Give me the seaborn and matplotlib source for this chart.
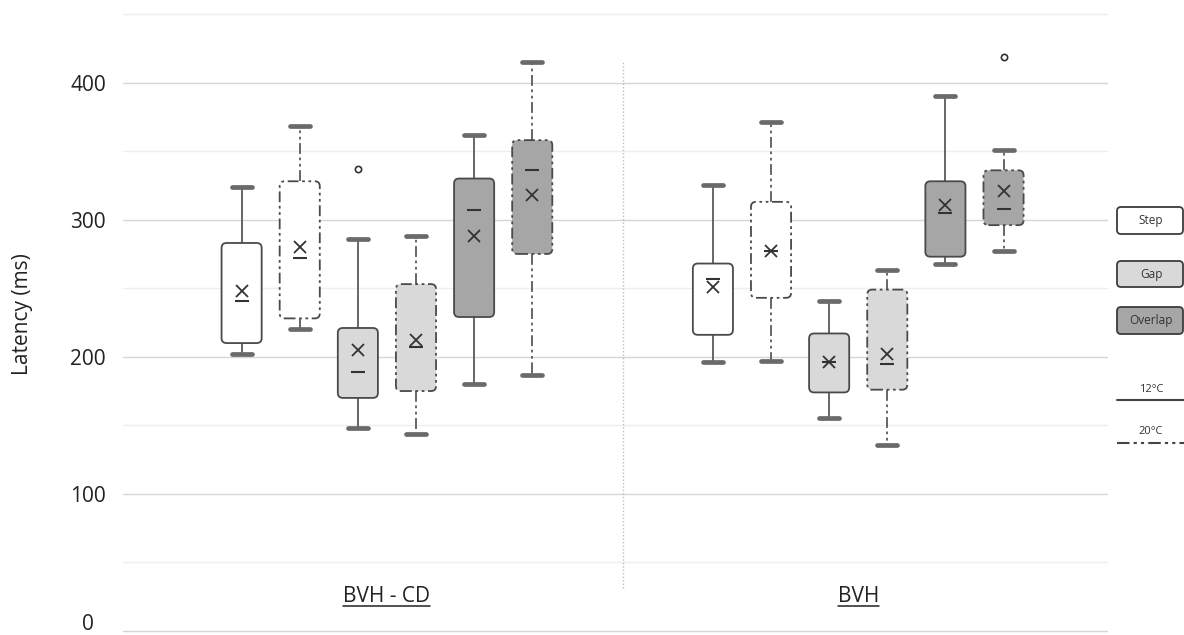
import matplotlib
matplotlib.use("Agg")
import matplotlib.pyplot as plt
from matplotlib.lines import Line2D
from matplotlib.patches import FancyBboxPatch, BoxStyle
from matplotlib.ticker import MultipleLocator
from matplotlib.transforms import ScaledTranslation
import pandas as pd
import seaborn as sns

# ---- data ----
groups = ["BVH - CD", "BVH"]
conditions = ["Step 12°C", "Step 20°C", "Gap 12°C", "Gap 20°C", "Overlap 12°C", "Overlap 20°C"]

# five-number summaries, group-major (6 boxes per group, in `conditions` order)
whisker_low = [202, 220, 148, 144, 180, 187, 196, 197, 155, 136, 268, 277]
q1 = [210, 228, 170, 175, 229, 275, 216, 243, 174, 176, 273, 296]
median = [241, 272, 189, 207, 307, 336, 257, 277, 196, 195, 305, 308]
q3 = [283, 328, 221, 253, 330, 358, 268, 313, 217, 249, 328, 336]
whisker_high = [324, 368, 286, 288, 362, 415, 325, 371, 241, 263, 390, 351]
mean = [248, 280, 205, 212, 288, 318, 251, 277, 196, 202, 311, 321]

outlier_group = ["BVH - CD", "BVH"]
outlier_condition = ["Gap 12°C", "Overlap 20°C"]
outlier_value = [337, 419]

yticks = [0, 100, 200, 300, 400]
legend_paradigms = ["Step", "Gap", "Overlap"]
legend_temps = ["12°C", "20°C"]

# ---- styling ----
W, H = 1184, 635
fills = {"Step": "#ffffff", "Gap": "#d9d9d9", "Overlap": "#a6a6a6"}
palette = {c: fills[c.split()[0]] for c in conditions}
ink = {c: "#333333" for c in conditions}
edge = "#4a4a4a"
dashdotdot = (0, (6, 2, 1.5, 2, 1.5, 2))
temp_styles = {"12°C": "-", "20°C": dashdotdot}

sns.set_style("white")
plt.rcParams["font.family"] = ["Open Sans", "DejaVu Sans"]

rows = []
for i in range(len(mean)):
    g, c = groups[i // 6], conditions[i % 6]
    for v in (whisker_low[i], q1[i], median[i], q3[i], whisker_high[i]):
        rows.append((g, c, c.split()[1], v))
boxes = pd.DataFrame(rows, columns=["group", "condition", "temp", "latency"])

summary = pd.DataFrame({
    "group": [groups[i // 6] for i in range(len(mean))],
    "condition": [conditions[i % 6] for i in range(len(mean))],
    "median": median,
    "mean": mean,
})
outliers = pd.DataFrame({"group": outlier_group, "condition": outlier_condition,
                         "latency": outlier_value})

# axes: y=0 at pixel row 631, y=450 at row 14, with a little slack so edge grid lines are not clipped
ppu = (631 - 14) / 450
ylo, yhi = -2, 452
top_px = 14 - (yhi - 450) * ppu
bot_px = 631 - ylo * ppu
fig = plt.figure(figsize=(W / 100, H / 100), dpi=100)
ax = fig.add_axes([123 / W, 1 - bot_px / H, (1108 - 123) / W, (bot_px - top_px) / H])

box_width = 0.74
dodge = box_width * 5 / 6

new_boxes = {}
for temp, ls in temp_styles.items():
    n0 = len(ax.patches)
    sns.boxplot(
        data=boxes[boxes["temp"] == temp], x="group", y="latency",
        hue="condition", order=groups, hue_order=conditions, palette=palette,
        width=box_width, gap=0.31, whis=(0, 100), showfliers=False,
        linecolor=edge, linewidth=1.3,
        whiskerprops={"linestyle": ls, "color": "#5a5a5a"},
        capprops={"linewidth": 3.4, "color": "#6a6a6a", "solid_capstyle": "round"},
        medianprops={"visible": False},
        legend=False, ax=ax,
    )
    new_boxes[temp] = list(ax.patches[n0:])

point_common = dict(x="group", hue="condition", order=groups, hue_order=conditions,
                    palette=ink, dodge=dodge, linestyles="none", errorbar=None,
                    legend=False, zorder=6, ax=ax)
sns.pointplot(data=summary, y="mean", markers="x", markersize=9,
              markeredgewidth=1.3, **point_common)
sns.pointplot(data=summary, y="median", markers="_", markersize=9.5,
              markeredgewidth=1.5, **point_common)
sns.pointplot(data=outliers, y="latency", markers="o", markersize=4.5,
              markeredgewidth=1.2, markerfacecolor="white", **point_common)

ax.set_xlim(-0.56, 1.53)
ax.set_ylim(ylo, yhi)

# rounded box corners
sx = ax.transData.transform((1, 0))[0] - ax.transData.transform((0, 0))[0]
sy = ax.transData.transform((0, 1))[1] - ax.transData.transform((0, 0))[1]
r_px = 5
rx = r_px / sx
aspect = (r_px / sy) / rx
for temp, patches in new_boxes.items():
    for p in patches:
        ext = p.get_path().get_extents()
        rb = FancyBboxPatch(
            (ext.x0, ext.y0), ext.width, ext.height,
            boxstyle=BoxStyle.Round(pad=0, rounding_size=rx),
            mutation_aspect=aspect,
            facecolor=p.get_facecolor(), edgecolor=edge, linewidth=1.3,
            linestyle=temp_styles[temp], zorder=p.get_zorder(),
        )
        p.remove()
        ax.add_patch(rb)

# separator between groups
ax.plot([0.5, 0.5], [31, 415], color="#bdbdbd", lw=1, ls=(0, (1, 1.5)), zorder=1)

# axes cosmetics
for s in ax.spines.values():
    s.set_visible(False)
ax.set_axisbelow(True)
ax.set_yticks(yticks)
ax.set_yticklabels([str(t) for t in yticks], fontsize=15, color="#222222")
ax.yaxis.set_minor_locator(MultipleLocator(50))
ax.tick_params(axis="y", which="both", length=0, pad=25)
for lab in ax.get_yticklabels():
    lab.set_ha("center")
# lift the bottom "0" label so it sits above the baseline, as in the source
zero_lab = ax.get_yticklabels()[0]
zero_lab.set_transform(zero_lab.get_transform() + ScaledTranslation(0, 9 / 100, fig.dpi_scale_trans))
ax.grid(axis="y", which="major", color="#d6d6d6", lw=1)
ax.grid(axis="y", which="minor", color="#eeeeee", lw=1)
ax.set_xticks([])
ax.set_xlabel("")
ax.set_ylabel("Latency (ms)", fontsize=15, color="#222222")
ax.yaxis.label.set_va("center")
ax.yaxis.set_label_coords((23 - 123) / 985, (bot_px - 314) / (bot_px - top_px))

group_texts = []
for i, g in enumerate(groups):
    group_texts.append(ax.text(i, 25, g, ha="center", va="center",
                               fontsize=15, color="#222222"))

# legend drawn in figure pixel space
def fxy(px, py):
    return px / W, 1 - py / H

for name, (y0, y1) in zip(legend_paradigms, [(207, 234), (261, 287), (307, 334)]):
    x0, yb = fxy(1117, y1)
    x1, yt = fxy(1183, y0)
    fig.add_artist(FancyBboxPatch(
        (x0, yb), x1 - x0, yt - yb,
        boxstyle=BoxStyle.Round(pad=0, rounding_size=4 / W),
        mutation_aspect=W / H, transform=fig.transFigure,
        facecolor=fills[name], edgecolor="#3c3c3c", linewidth=1.3))
    fig.text(*fxy(1151, (y0 + y1) / 2), name, ha="center", va="center",
             fontsize=8.5, color="#333333")

for name, ty, ly in zip(legend_temps, [389, 431], [400, 443]):
    fig.text(*fxy(1151, ty), name, ha="center", va="center", fontsize=8,
             color="#333333")
    xa, ya = fxy(1117, ly)
    xb, _ = fxy(1184, ly)
    fig.add_artist(Line2D([xa, xb], [ya, ya], transform=fig.transFigure,
                          color="#444444", lw=1.5, ls=temp_styles[name]))

# underline group labels
fig.canvas.draw()
renderer = fig.canvas.get_renderer()
inv = fig.transFigure.inverted()
for t in group_texts:
    bb = t.get_window_extent(renderer)
    (ax0, ay), (ax1, _) = inv.transform([(bb.x0, bb.y0 + 1), (bb.x1, bb.y0 + 1)])
    fig.add_artist(Line2D([ax0, ax1], [ay, ay], transform=fig.transFigure,
                          color="#222222", lw=1.1))

fig.savefig("out.png", dpi=100)
